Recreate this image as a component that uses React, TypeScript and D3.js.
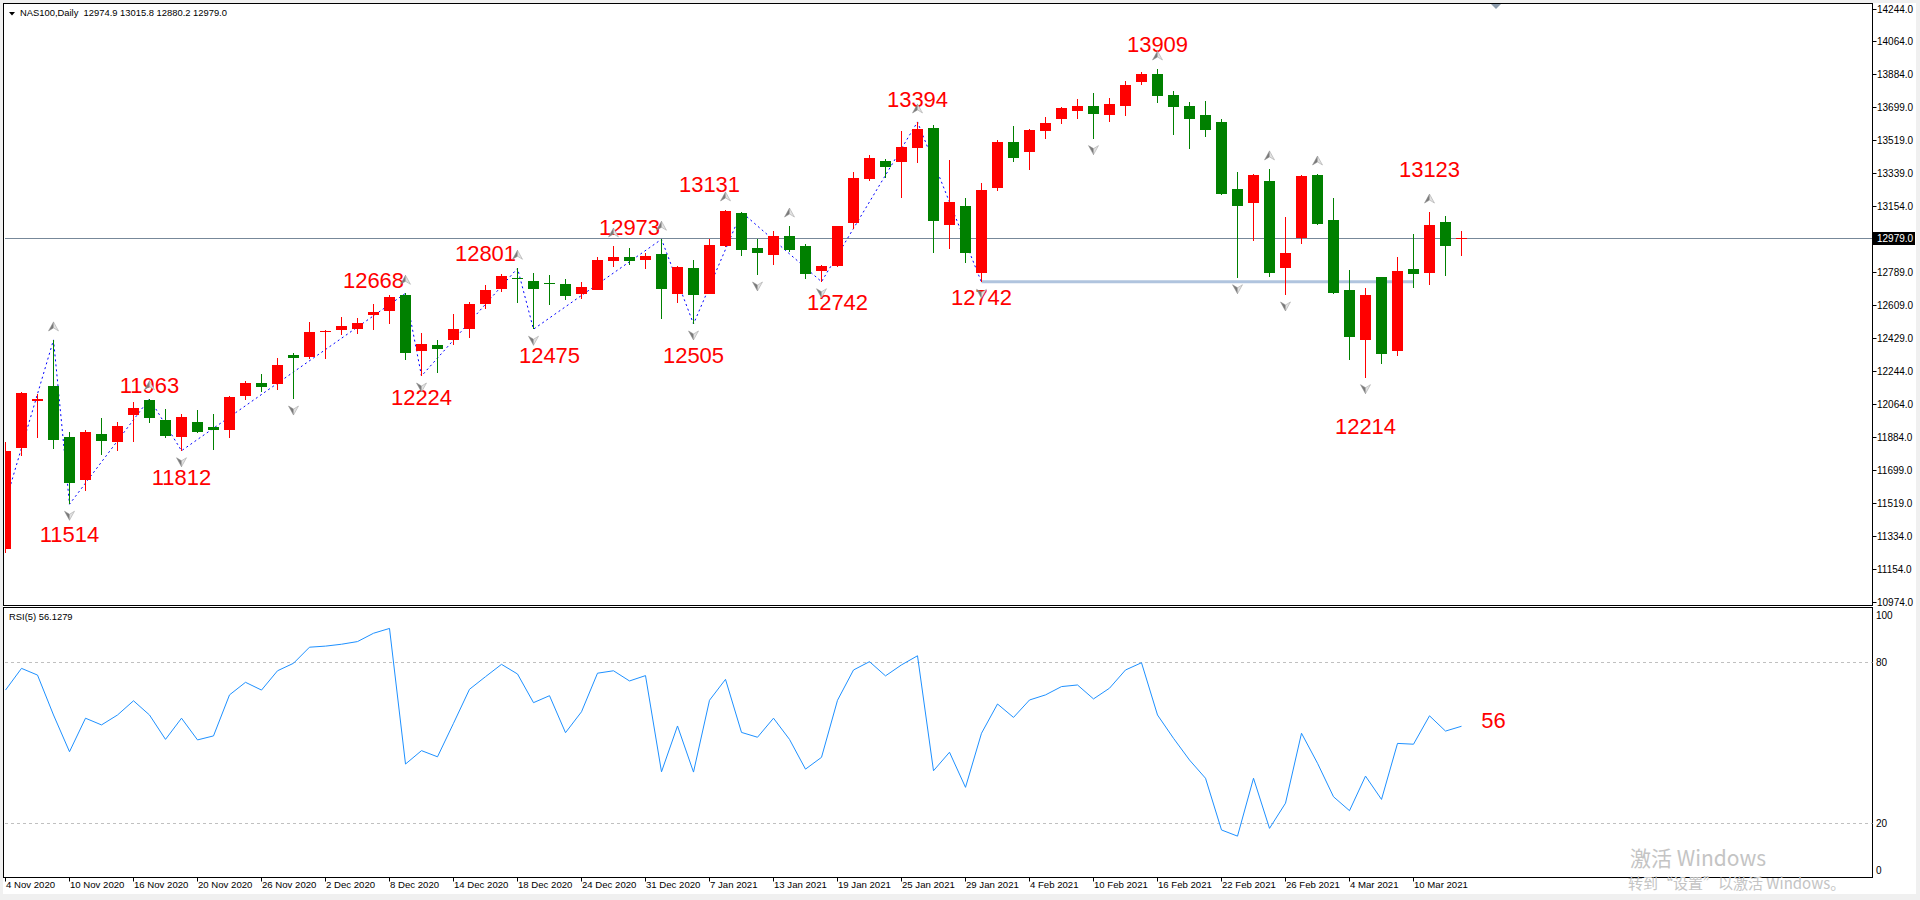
import React from 'react';
import * as d3 from 'd3';

// ---------- data ----------
const xTickLabels = [
  '4 Nov 2020', '10 Nov 2020', '16 Nov 2020', '20 Nov 2020', '26 Nov 2020', '2 Dec 2020',
  '8 Dec 2020', '14 Dec 2020', '18 Dec 2020', '24 Dec 2020', '31 Dec 2020', '7 Jan 2021',
  '13 Jan 2021', '19 Jan 2021', '25 Jan 2021', '29 Jan 2021', '4 Feb 2021', '10 Feb 2021',
  '16 Feb 2021', '22 Feb 2021', '26 Feb 2021', '4 Mar 2021', '10 Mar 2021',
];
const barsPerLabel = 4;

const opens = [
  11266, 11823, 12078, 12163, 11882, 11646, 11898, 11856, 12005, 12086,
  11975, 11880, 11965, 11937, 11922, 12109, 12181, 12176, 12334, 12325,
  12459, 12473, 12477, 12556, 12578, 12665, 12356, 12389, 12417, 12477,
  12615, 12700, 12760, 12742, 12733, 12727, 12670, 12692, 12854, 12872,
  12858, 12891, 12670, 12814, 12670, 12935, 13119, 12924, 12885, 12990,
  12935, 12799, 12825, 13060, 13306, 13404, 13400, 13477, 13585, 13052,
  13156, 12784, 13256, 13508, 13455, 13571, 13637, 13681, 13709, 13659,
  13709, 13839, 13883, 13767, 13707, 13657, 13619, 13250, 13174, 13293,
  12815, 12979, 13326, 13078, 12692, 12417, 12764, 12356, 12808, 12788,
  13067, 12974.9,
];
const highs = [
  11856, 12132, 12117, 12417, 11908, 11920, 11986, 11963, 12075, 12093,
  12036, 12007, 12030, 12008, 12108, 12189, 12229, 12317, 12343, 12516,
  12472, 12543, 12538, 12615, 12662, 12674, 12457, 12417, 12560, 12624,
  12720, 12781, 12812, 12784, 12775, 12751, 12736, 12876, 12935, 12926,
  12898, 12972, 12823, 12858, 12972, 13134, 13122, 12975, 13018, 13045,
  12946, 12830, 13047, 13343, 13437, 13416, 13571, 13619, 13602, 13409,
  13201, 13281, 13519, 13597, 13578, 13648, 13703, 13746, 13780, 13751,
  13845, 13895, 13911, 13790, 13729, 13735, 13636, 13343, 13332, 13360,
  13095, 13326, 13332, 13200, 12804, 12705, 12764, 12876, 13002, 13122,
  13100, 13015.8,
];
const lows = [
  11242, 11777, 11878, 11816, 11511, 11585, 11784, 11806, 11856, 11961,
  11878, 11806, 11905, 11810, 11878, 12086, 12131, 12141, 12091, 12312,
  12313, 12446, 12448, 12473, 12505, 12306, 12218, 12236, 12389, 12429,
  12586, 12683, 12619, 12476, 12608, 12638, 12644, 12690, 12821, 12830,
  12808, 12534, 12619, 12505, 12668, 12931, 12880, 12775, 12830, 12903,
  12755, 12738, 12821, 13029, 13295, 13308, 13201, 13391, 12898, 12918,
  12843, 12735, 13240, 13400, 13354, 13527, 13606, 13637, 13527, 13619,
  13653, 13824, 13725, 13547, 13471, 13538, 13216, 12760, 12964, 12766,
  12665, 12948, 13050, 12668, 12306, 12209, 12286, 12330, 12705, 12720,
  12770, 12880.2,
];
const closes = [
  11805, 12124, 12093, 11867, 11630, 11909, 11861, 11942, 12043, 11988,
  11889, 11992, 11909, 11922, 12102, 12181, 12159, 12279, 12319, 12461,
  12466, 12495, 12510, 12571, 12655, 12347, 12394, 12367, 12477, 12615,
  12692, 12770, 12752, 12700, 12723, 12661, 12711, 12858, 12876, 12854,
  12880, 12700, 12821, 12665, 12940, 13130, 12913, 12896, 12990, 12913,
  12780, 12825, 13045, 13310, 13420, 13372, 13481, 13580, 13074, 13178,
  12898, 13244, 13508, 13422, 13575, 13615, 13696, 13709, 13664, 13718,
  13823, 13883, 13762, 13703, 13637, 13576, 13222, 13157, 13326, 12788,
  12896, 13322, 13056, 12674, 12435, 12665, 12341, 12797, 12782, 13050,
  12937, 12979.0,
];
const rsiValues = [
  69.6, 77.7, 75.2, 60.3, 46.6, 59.1, 56.6, 60.3, 65.6, 60.3,
  51.2, 59.1, 51.0, 52.5, 67.8, 72.5, 69.6, 76.8, 79.6, 85.6,
  86.0, 86.7, 87.7, 90.8, 92.6, 42.0, 47.0, 44.7, 57.2, 69.9,
  74.6, 79.2, 75.6, 64.9, 67.5, 53.7, 61.5, 75.9, 76.8, 73.0,
  75.0, 39.1, 56.2, 39.0, 65.8, 73.6, 53.8, 52.0, 59.1, 51.2,
  40.1, 44.5, 65.8, 77.1, 80.2, 74.9, 79.0, 82.4, 39.5, 46.4,
  33.3, 53.5, 64.4, 59.4, 65.9, 67.8, 70.9, 71.5, 66.3, 70.3,
  77.1, 79.8, 60.3, 51.6, 43.5, 36.7, 17.4, 15.1, 36.7, 18.0,
  27.4, 53.5, 42.3, 29.8, 24.6, 37.5, 28.8, 49.7, 49.4, 60.0,
  54.3, 56.1,
];

const priceTicks = [
  14244, 14064, 13884, 13699, 13519, 13339, 13154, 12789, 12609, 12429,
  12244, 12064, 11884, 11699, 11519, 11334, 11154, 10974,
];
const currentPrice = 12979.0;
const headerText = 'NAS100,Daily\u00a0\u00a012974.9 13015.8 12880.2 12979.0';
const rsiTitle = 'RSI(5) 56.1279';
const rsiLevels = [80, 20];
const rsiAxisLabels = ['100', '80', '20', '0'];
const rsiAxisValues = [100, 80, 20, 0];

const zigzagBars = [-1, 3, 4, 9, 11, 25, 26, 32, 33, 41, 43, 46, 51, 57, 61];
const zigzagPrices = [11225, 12417, 11511, 12093, 11806, 12674, 12218, 12812, 12476, 12972, 12505, 13122, 12738, 13619, 12735];

const upFractals = [3, 9, 25, 32, 38, 41, 45, 49, 57, 72, 79, 82, 89];
const downFractals = [4, 11, 18, 26, 33, 43, 47, 51, 61, 68, 77, 80, 85];

const supportPrice = 12738;
const supportFromBar = 61;
const supportToBar = 88;

const labelTexts = ['11514', '11963', '11812', '12224', '12668', '12801', '12475', '12973', '12505', '13131', '12742', '13394', '12742', '13909', '13123', '12214'];
const labelBars = [4, 9, 11, 26, 23, 30, 34, 39, 43, 44, 52, 57, 61, 72, 89, 85];
const labelPrices = [11304, 12123, 11617, 12058, 12702, 12854, 12288, 12996, 12288, 13234, 12582, 13703, 12610, 14006, 13317, 11898];
const rsiLabelText = '56';
const rsiLabelBar = 93;
const rsiLabelValue = 55.3;

const watermark1 = '激活 Windows';
const watermark2 = '转到“设置”以激活 Windows。';

// ---------- component ----------
const FONT = '"Liberation Sans", Arial, sans-serif';

function Fractal({ cx, yRef, up }: { cx: number; yRef: number; up: boolean }) {
  const s = up ? -1 : 1;
  const apex = yRef + s * 13;
  const wing = yRef + s * 4;
  const notch = yRef + s * 7;
  const left = `${cx},${apex} ${cx - 5},${wing} ${cx},${notch}`;
  const right = `${cx},${apex} ${cx},${notch} ${cx + 5},${wing}`;
  return (
    <g>
      <polygon points={left} fill="#7a7a7a" stroke="#8a8a8a" strokeWidth={0.5} />
      <polygon points={right} fill="#e2e2e2" stroke="#9a9a9a" strokeWidth={0.5} />
    </g>
  );
}

export default function App() {
  const W = 1920;
  const H = 900;
  const plotL = 3.5;
  const plotR = 1872.5;
  const mainT = 3.5;
  const mainB = 605.5;
  const rsiT = 607.5;
  const rsiB = 877.5;

  const x = d3.scaleLinear().domain([0, 88]).range([5.5, 1413.5]);
  const y = d3.scaleLinear().domain([10974, 14244]).range([601.6, 8.6]);
  const ry = d3.scaleLinear().domain([0, 100]).range([876.6, 608.6]);

  const zz = zigzagBars.map((b, i) => [b, zigzagPrices[i]] as [number, number]);
  const zzLine = d3.line<[number, number]>().x((d) => x(d[0])).y((d) => y(d[1]));
  const rsiLine = d3.line<number>().x((_, i) => x(i)).y((d) => ry(d));

  const cpY = Math.round(y(currentPrice)) + 0.5;

  return (
    <svg
      width={W}
      height={H}
      style={{ position: 'absolute', left: 0, top: 0, display: 'block' }}
      fontFamily={FONT}
    >
      <defs>
        <clipPath id="mainClip">
          <rect x={5} y={4} width={plotR - 5} height={mainB - 4} />
        </clipPath>
        <clipPath id="rsiClip">
          <rect x={5} y={rsiT + 0.5} width={plotR - 5} height={rsiB - rsiT - 1} />
        </clipPath>
      </defs>
      <rect x={0} y={0} width={W} height={H} fill="#f0f0f0" />
      <rect x={3} y={3} width={1913} height={891} fill="#ffffff" />

      {/* header */}
      <polygon points="9,12 15,12 12,15.5" fill="#000" />
      <text x={20} y={16} fontSize={9.4} fill="#000">{headerText}</text>

      {/* main plot */}
      <g clipPath="url(#mainClip)">
        <line x1={plotL} x2={plotR} y1={cpY} y2={cpY} stroke="#778899" strokeWidth={1} />
        <line
          x1={x(supportFromBar)}
          x2={x(supportToBar)}
          y1={y(supportPrice)}
          y2={y(supportPrice)}
          stroke="#b0c4de"
          strokeWidth={3}
        />
        <path d={zzLine(zz) || ''} fill="none" stroke="#0000ff" strokeWidth={1} strokeDasharray="2,3" />
        <g shapeRendering="crispEdges">
          {closes.map((c, i) => {
            const o = opens[i];
            const bull = c >= o;
            const col = bull ? '#ff0000' : '#008000';
            const cx = Math.round(x(i) - 0.5) + 0.5;
            const top = Math.round(y(Math.max(o, c)));
            const bot = Math.round(y(Math.min(o, c)));
            const hgt = Math.max(1, bot - top);
            return (
              <g key={i}>
                <line x1={cx} x2={cx} y1={Math.round(y(highs[i]))} y2={Math.round(y(lows[i]))} stroke={col} strokeWidth={1} />
                <rect x={cx - 5.5} y={top} width={11} height={hgt} fill={col} />
              </g>
            );
          })}
        </g>
        {labelTexts.map((t, i) => (
          <text
            key={'l' + i}
            x={x(labelBars[i])}
            y={y(labelPrices[i])}
            fontSize={22}
            fill="#ff0000"
            textAnchor="middle"
          >
            {t}
          </text>
        ))}
        {upFractals.map((b) => (
          <Fractal key={'u' + b} cx={x(b)} yRef={y(highs[b]) - 5} up={true} />
        ))}
        {downFractals.map((b) => (
          <Fractal key={'d' + b} cx={x(b)} yRef={y(lows[b]) + 3} up={false} />
        ))}
      </g>

      <polygon points="1491,4 1501,4 1496,9" fill="#8c9bab" />

      <rect x={plotL} y={mainT} width={plotR - plotL} height={mainB - mainT} fill="none" stroke="#000" strokeWidth={1} />
      <rect x={plotL} y={rsiT} width={plotR - plotL} height={rsiB - rsiT} fill="none" stroke="#000" strokeWidth={1} />

      {priceTicks.map((p) => {
        const ty = Math.round(y(p)) + 0.5;
        return (
          <g key={'p' + p}>
            <line x1={plotR} x2={plotR + 4} y1={ty} y2={ty} stroke="#000" />
            <text x={1877} y={ty + 3.5} fontSize={10} fill="#000">{p.toFixed(1)}</text>
          </g>
        );
      })}
      <rect x={plotR + 0.5} y={cpY - 6.5} width={42} height={13} fill="#000" />
      <text x={1877} y={cpY + 3.5} fontSize={10} fill="#fff">{currentPrice.toFixed(1)}</text>

      <text x={9} y={620} fontSize={9.4} fill="#000">{rsiTitle}</text>
      {rsiLevels.map((v) => (
        <line
          key={'lv' + v}
          x1={5}
          x2={plotR}
          y1={Math.round(ry(v)) + 0.5}
          y2={Math.round(ry(v)) + 0.5}
          stroke="#c0c0c0"
          strokeDasharray="3,3"
        />
      ))}
      <g clipPath="url(#rsiClip)">
        <path d={rsiLine(rsiValues) || ''} fill="none" stroke="#1e90ff" strokeWidth={1} />
        <text x={x(rsiLabelBar)} y={ry(rsiLabelValue)} fontSize={22} fill="#ff0000" textAnchor="middle">
          {rsiLabelText}
        </text>
      </g>
      {rsiAxisLabels.map((t, i) => {
        const v = rsiAxisValues[i];
        let cy = ry(v);
        if (v === 100) cy = 615;
        if (v === 0) cy = 870.7;
        return (
          <text key={'ra' + t} x={1876} y={cy + 3.5} fontSize={10} fill="#000">{t}</text>
        );
      })}

      {xTickLabels.map((t, k) => {
        const tx = Math.round(x(k * barsPerLabel) - 0.5) + 0.5;
        return (
          <g key={'x' + k}>
            <line x1={tx} x2={tx} y1={rsiB} y2={rsiB + 4} stroke="#000" />
            <text x={tx + 0.5} y={888} fontSize={9.6} fill="#000">{t}</text>
          </g>
        );
      })}

      <text x={1630} y={866} fontSize={21} fill="#c4c4c4" fontFamily='"Noto Sans CJK SC", sans-serif'>{watermark1}</text>
      <text x={1628} y={889} fontSize={15} fill="#c4c4c4" fontFamily='"Noto Sans CJK SC", sans-serif'>{watermark2}</text>
    </svg>
  );
}
